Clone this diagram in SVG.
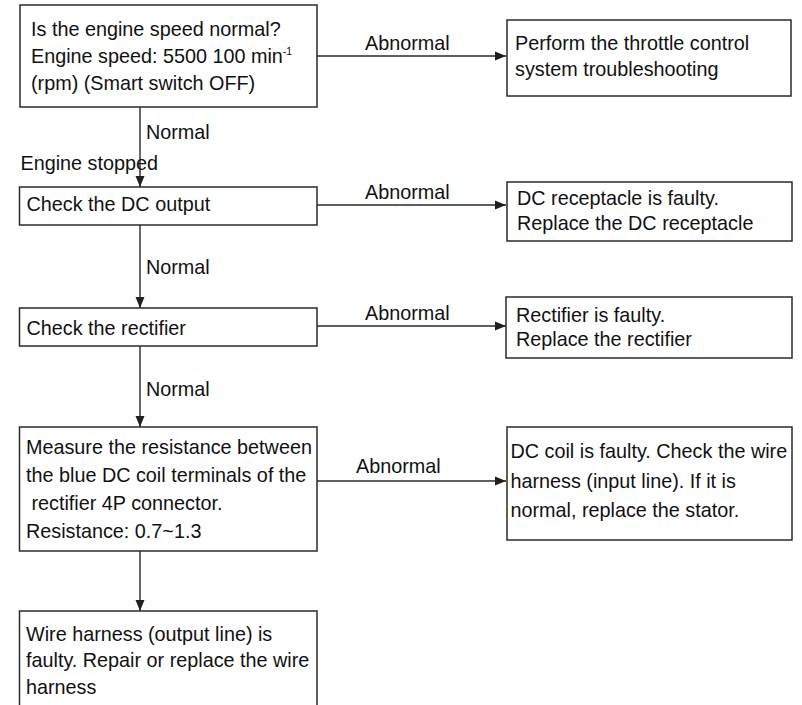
<svg xmlns="http://www.w3.org/2000/svg" width="802" height="705" viewBox="0 0 802 705">
<defs>
<style>
.box{fill:#fff;stroke:#2b2a29;stroke-width:1.5}
.t{font-family:"Liberation Sans",Arial,sans-serif;font-size:19.8px;fill:#111}
.sup{font-size:10.5px;fill:#111}
.ln{fill:none;stroke:#2b2a29;stroke-width:1.4}
</style>
<marker id="ah" markerUnits="userSpaceOnUse" markerWidth="12" markerHeight="12" viewBox="0 0 12 12" refX="11" refY="6" orient="auto">
<path d="M0,1.5 L11,6 L0,10.5 Z" fill="#231f20"/>
</marker>
</defs>
<rect width="802" height="705" fill="#fff"/>
<g id="connectors">
<line class="ln" x1="140" y1="107" x2="140" y2="187" marker-end="url(#ah)"/>
<line class="ln" x1="140" y1="225" x2="140" y2="308" marker-end="url(#ah)"/>
<line class="ln" x1="140" y1="346" x2="140" y2="427" marker-end="url(#ah)"/>
<line class="ln" x1="140" y1="551" x2="140" y2="611" marker-end="url(#ah)"/>
<line class="ln" x1="317" y1="56" x2="506" y2="56" marker-end="url(#ah)"/>
<line class="ln" x1="317" y1="205" x2="506" y2="205" marker-end="url(#ah)"/>
<line class="ln" x1="317" y1="326" x2="506" y2="326" marker-end="url(#ah)"/>
<line class="ln" x1="317" y1="481" x2="506" y2="481" marker-end="url(#ah)"/>
<text class="t" x="365" y="50">Abnormal</text>
<text class="t" x="365" y="199">Abnormal</text>
<text class="t" x="365" y="320">Abnormal</text>
<text class="t" x="356" y="473">Abnormal</text>
<text class="t" x="146" y="139">Normal</text>
<text class="t" x="146" y="274">Normal</text>
<text class="t" x="146" y="396">Normal</text>
<text class="t" x="20.5" y="170">Engine stopped</text>
</g>
<g id="n1">
<rect class="box" x="20" y="5" width="297" height="102"/>
<text class="t" x="31" y="36">Is the engine speed normal?</text>
<text class="t" x="31" y="63">Engine speed: 5500 100 min<tspan class="sup" dy="-8">-1</tspan></text>
<text class="t" x="31" y="90">(rpm) (Smart switch OFF)</text>
</g>
<g id="n2">
<rect class="box" x="507" y="20" width="284" height="76"/>
<text class="t" x="515" y="50">Perform the throttle control</text>
<text class="t" x="515" y="76">system troubleshooting</text>
</g>
<g id="n3">
<rect class="box" x="19.5" y="187" width="297.5" height="38"/>
<text class="t" x="26.5" y="211">Check the DC output</text>
</g>
<g id="n4">
<rect class="box" x="507" y="182" width="285" height="59"/>
<text class="t" x="517" y="205">DC receptacle is faulty.</text>
<text class="t" x="517" y="230">Replace the DC receptacle</text>
</g>
<g id="n5">
<rect class="box" x="19.5" y="308" width="297.5" height="38"/>
<text class="t" x="26.5" y="335">Check the rectifier</text>
</g>
<g id="n6">
<rect class="box" x="506" y="297" width="286" height="61"/>
<text class="t" x="516" y="322">Rectifier is faulty.</text>
<text class="t" x="516" y="346">Replace the rectifier</text>
</g>
<g id="n7">
<rect class="box" x="19.5" y="427" width="297.5" height="124"/>
<text class="t" x="26" y="454">Measure the resistance between</text>
<text class="t" x="26" y="482">the blue DC coil terminals of the</text>
<text class="t" x="31.5" y="510">rectifier 4P connector.</text>
<text class="t" x="26" y="538">Resistance: 0.7~1.3</text>
</g>
<g id="n8">
<rect class="box" x="507" y="427" width="285" height="113"/>
<text class="t" x="510.5" y="458">DC coil is faulty. Check the wire</text>
<text class="t" x="510.5" y="488">harness (input line). If it is</text>
<text class="t" x="510.5" y="517">normal, replace the stator.</text>
</g>
<g id="n9">
<rect class="box" x="19.5" y="611" width="297.5" height="110"/>
<text class="t" x="26" y="641">Wire harness (output line) is</text>
<text class="t" x="26" y="667">faulty. Repair or replace the wire</text>
<text class="t" x="26" y="694">harness</text>
</g>
</svg>
